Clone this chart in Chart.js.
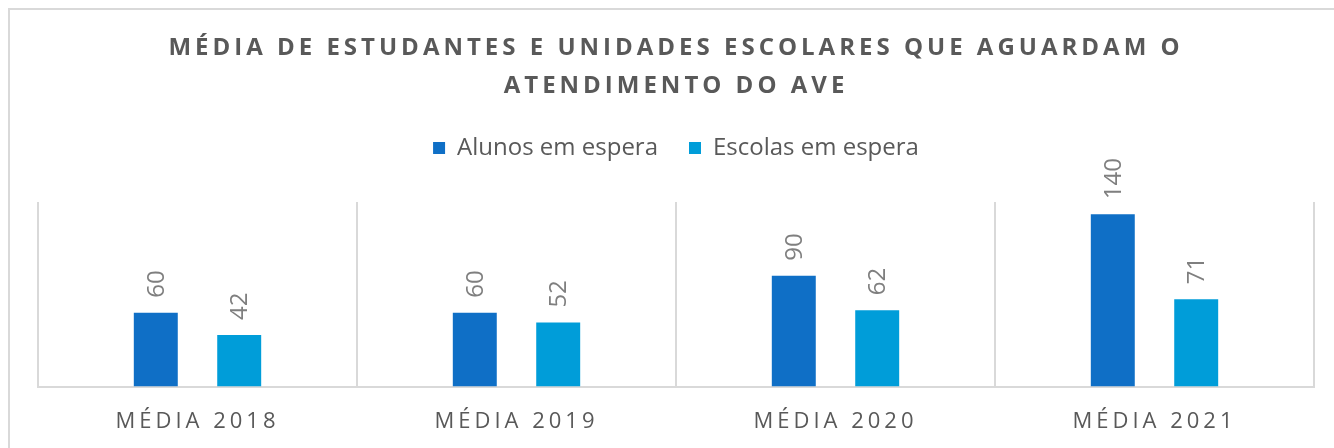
<!DOCTYPE html>
<html>
<head>
<meta charset="utf-8">
<script src="https://cdn.jsdelivr.net/npm/chart.js@4.4.1/dist/chart.umd.min.js"></script>
<style>
  html, body { margin: 0; padding: 0; background: #fff; overflow: hidden; }
  #frame { position: absolute; left: 8px; top: 8px; width: 1400px; height: 500px; border: 2px solid #d9d9d9; }
  #chart { position: absolute; left: 0; top: 0; }
</style>
</head>
<body>
<div id="frame"></div>
<canvas id="chart" width="1334" height="448"></canvas>
<script>
/* data */
var categories = ['MÉDIA 2018', 'MÉDIA 2019', 'MÉDIA 2020', 'MÉDIA 2021'];
var alunos = [60, 60, 90, 140];
var escolas = [42, 52, 62, 71];
var titleLines = ['MÉDIA DE ESTUDANTES E UNIDADES ESCOLARES QUE AGUARDAM O', 'ATENDIMENTO DO AVE'];

Chart.defaults.font.family = '"Open Sans", sans-serif';

/* letter spacing for title and x labels (canvas letterSpacing) */
function spaced(obj, name, sp) {
    if (!obj || obj['_orig_' + name]) return;
    var orig = obj[name];
    obj['_orig_' + name] = orig;
    obj[name] = function () {
        var c = this.ctx;
        var prev = c.letterSpacing;
        c.letterSpacing = sp;
        orig.apply(this, arguments);
        c.letterSpacing = prev;
    };
}
var spacing = {
    id: 'spacing',
    beforeDraw: function (chart) {
        spaced(chart.titleBlock, 'draw', '4px');
        spaced(chart.scales.x, 'drawLabels', '4px');
    }
};

/* rotated value labels above bars */
var valueLabels = {
    id: 'valueLabels',
    afterDatasetsDraw: function (chart) {
        var ctx = chart.ctx;
        ctx.save();
        ctx.font = '24px "Open Sans"';
        ctx.fillStyle = '#7f7f7f';
        ctx.textAlign = 'left';
        ctx.textBaseline = 'middle';
        chart.data.datasets.forEach(function (ds, i) {
            chart.getDatasetMeta(i).data.forEach(function (bar, j) {
                ctx.save();
                ctx.translate(bar.x + 1, bar.y - 15);
                ctx.rotate(-Math.PI / 2);
                ctx.fillText(ds.data[j], 0, 0);
                ctx.restore();
            });
        });
        ctx.restore();
    }
};

var ctx = document.getElementById('chart').getContext('2d');
var myChart = new Chart(ctx, {
    type: 'bar',
    data: {
        labels: categories,
        datasets: [{
            label: 'Alunos em espera',
            data: alunos,
            backgroundColor: '#0F6FC6',
            categoryPercentage: 0.523,
            barPercentage: 0.527
        }, {
            label: 'Escolas em espera',
            data: escolas,
            backgroundColor: '#009DD9',
            categoryPercentage: 0.523,
            barPercentage: 0.527
        }]
    },
    options: {
        responsive: false,
        animation: false,
        layout: {
            // the x axis reserves its tick padding twice, so pull the bottom back
            padding: { left: 38, right: 20, top: 0, bottom: -9 }
        },
        plugins: {
            title: {
                display: true,
                text: titleLines,
                color: '#595959',
                font: { size: 24, weight: 'bold', lineHeight: 1.583 },
                padding: { top: 29, bottom: 0 }
            },
            subtitle: {
                display: true,
                text: ' ',
                weight: 500,
                font: { size: 1, lineHeight: 1 },
                padding: { top: 31, bottom: 0 }
            },
            legend: {
                position: 'top',
                labels: {
                    color: '#595959',
                    font: { size: 24 },
                    boxWidth: 12,
                    boxHeight: 12,
                    padding: 31
                }
            },
            tooltip: { enabled: false }
        },
        scales: {
            x: {
                grid: { display: true, color: '#d9d9d9', lineWidth: 2, drawTicks: false },
                border: { display: true, color: '#d9d9d9', width: 2 },
                ticks: {
                    color: '#595959',
                    font: { size: 22 },
                    padding: 22,
                    maxRotation: 0
                }
            },
            y: {
                display: false,
                min: 0,
                max: 150
            }
        }
    },
    plugins: [spacing, valueLabels]
});
</script>
</body>
</html>
